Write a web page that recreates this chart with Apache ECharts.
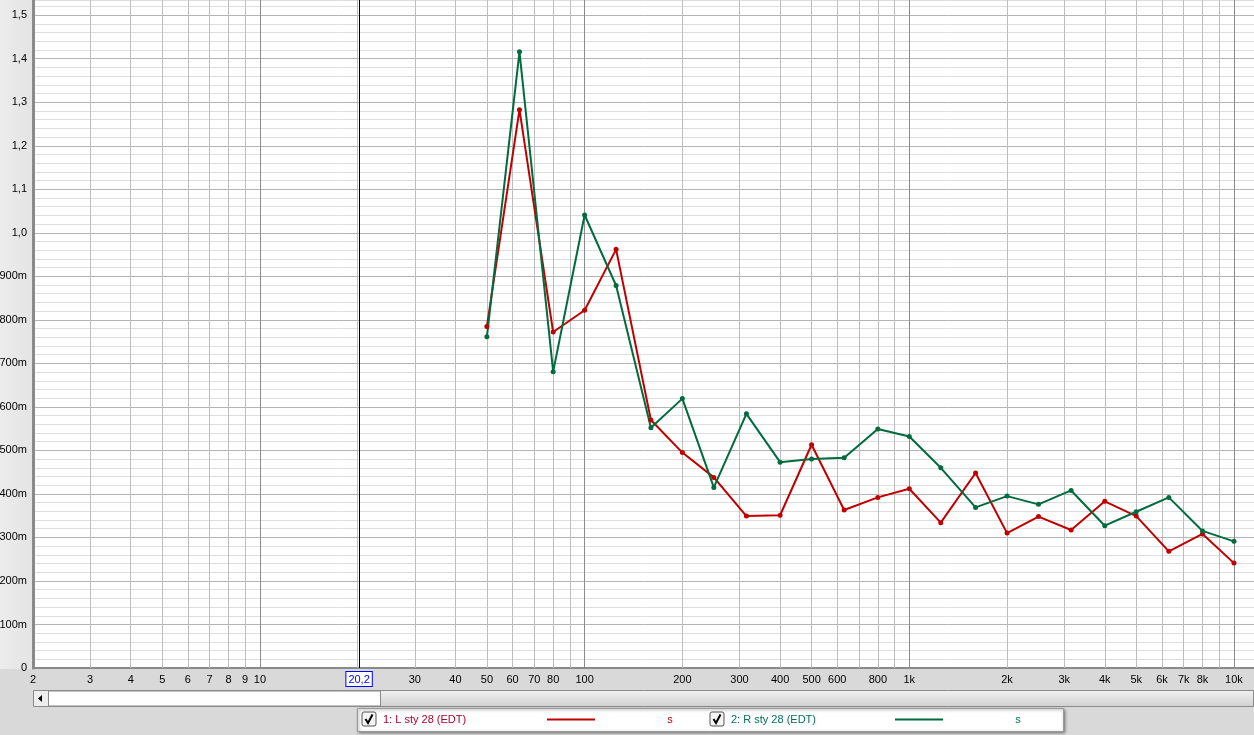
<!DOCTYPE html>
<html>
<head>
<meta charset="utf-8">
<script src="https://cdn.jsdelivr.net/npm/echarts@6/dist/echarts.min.js"></script>
<style>
html,body{margin:0;padding:0;background:#d9d9d9;}
#c{width:1254px;height:735px;}
</style>
</head>
<body>
<div id="c"></div>
<script>
// ---- data ----
const freqs = [50, 63, 80, 100, 125, 160, 200, 250, 315, 400, 500, 630, 800, 1000, 1250, 1600, 2000, 2500, 3150, 4000, 5000, 6300, 8000, 10000];
const edtLeft = [0.785, 1.283, 0.772, 0.822, 0.962, 0.570, 0.495, 0.438, 0.349, 0.351, 0.513, 0.363, 0.392, 0.412, 0.334, 0.448, 0.310, 0.348, 0.317, 0.383, 0.349, 0.268, 0.308, 0.241];
const edtRight = [0.761, 1.416, 0.681, 1.041, 0.879, 0.552, 0.619, 0.415, 0.584, 0.473, 0.480, 0.483, 0.549, 0.532, 0.460, 0.369, 0.395, 0.376, 0.408, 0.327, 0.359, 0.392, 0.315, 0.291];
const seriesNames = ['1: L sty 28 (EDT)', '2: R sty 28 (EDT)'];
const unitLabel = 's';
const xTickLabels = [2, 3, 4, 5, 6, 7, 8, 9, 10, 30, 40, 50, 60, 70, 80, 100, 200, 300, 400, 500, 600, 800, 1000, 2000, 3000, 4000, 5000, 6000, 7000, 8000, 10000];
const xGridFreqs = [3,4,5,6,7,8,9,10,20,30,40,50,60,70,80,90,100,200,300,400,500,600,700,800,900,1000,2000,3000,4000,5000,6000,7000,8000,9000,10000];
const decadeFreqs = [10, 100, 1000, 10000];
const cursorFreq = 20.2;
const cursorText = '20,2';

const RED = '#c00000';
const GREEN = '#006b3c';
const FONT = 'Liberation Sans';

function fmtFreq(f) { return f >= 1000 ? (f / 1000) + 'k' : String(f); }

// vertical grid lines + bottom tick labels via markLine on the log axis
const gridLines = [];
const allF = Array.from(new Set([2].concat(xGridFreqs))).sort((a, b) => a - b);
allF.forEach(f => {
  const isDec = decadeFreqs.indexOf(f) >= 0;
  const lab = xTickLabels.indexOf(f) >= 0;
  gridLines.push({
    xAxis: f,
    lineStyle: { color: isDec ? '#8a8a8a' : '#bdbdbd', width: f === 2 ? 0 : 1, type: 'solid' },
    label: { show: lab, formatter: fmtFreq(f) }
  });
});
gridLines.push({
  xAxis: cursorFreq,
  lineStyle: { color: '#000', width: 1, type: 'solid' },
  label: {
    show: true, formatter: cursorText, color: '#0000ff',
    borderColor: '#0000ff', borderWidth: 1, backgroundColor: '#fff',
    padding: [2, 2, 1, 2], distance: 4
  }
});

const chart = echarts.init(document.getElementById('c'));

function checkbox(x, y) {
  return [
    { type: 'rect', shape: { x: x, y: y, width: 14, height: 14, r: 2 }, style: { fill: '#f4f4f4', stroke: '#555', lineWidth: 1 }, z: 10 },
    { type: 'polyline', shape: { points: [[x + 3.5, y + 7], [x + 6, y + 11], [x + 10.5, y + 2.5]] }, style: { stroke: '#000', lineWidth: 2, fill: null }, z: 11 }
  ];
}

const graphics = [
  // left axis panel
  { type: 'rect', shape: { x: 0, y: 0, width: 32, height: 669 }, style: { fill: new echarts.graphic.LinearGradient(0, 0, 1, 0, [{ offset: 0, color: '#ececec' }, { offset: 1, color: '#e4e4e4' }]) }, z: -1, silent: true },
  // scrollbar
  { type: 'rect', shape: { x: 33.5, y: 690.5, width: 1220, height: 16 }, style: { fill: new echarts.graphic.LinearGradient(0, 0, 0, 1, [{ offset: 0, color: '#f2f2f2' }, { offset: 1, color: '#d0d0d0' }]), stroke: '#8a8a8a', lineWidth: 1 }, z: 5 },
  { type: 'rect', shape: { x: 48.5, y: 691, width: 332, height: 15 }, style: { fill: '#ffffff', stroke: '#8a8a8a', lineWidth: 1 }, z: 6 },
  { type: 'rect', shape: { x: 34, y: 691, width: 14, height: 15 }, style: { fill: '#eeeeee' }, z: 6 },
  { type: 'polygon', shape: { points: [[38, 698.5], [42, 695], [42, 702]] }, style: { fill: '#000' }, z: 7 },
  // legend box
  { type: 'rect', shape: { x: 357.5, y: 708.5, width: 706, height: 23 }, style: { fill: '#ffffff', stroke: '#9a9a9a', lineWidth: 1, shadowBlur: 3, shadowColor: 'rgba(0,0,0,0.45)', shadowOffsetX: 1, shadowOffsetY: 1 }, z: 8 }
].concat(checkbox(362, 712)).concat(checkbox(710, 712)).concat([
  { type: 'text', x: 383, y: 720, style: { text: seriesNames[0], fill: '#b0002a', font: '11px "' + FONT + '"', textVerticalAlign: 'middle' }, z: 10 },
  { type: 'line', shape: { x1: 547, y1: 719.5, x2: 595, y2: 719.5 }, style: { stroke: RED, lineWidth: 2 }, z: 10 },
  { type: 'text', x: 670, y: 720, style: { text: unitLabel, fill: RED, font: '11px "' + FONT + '"', textAlign: 'center', textVerticalAlign: 'middle' }, z: 10 },
  { type: 'text', x: 731, y: 720, style: { text: seriesNames[1], fill: '#00705a', font: '11px "' + FONT + '"', textVerticalAlign: 'middle' }, z: 10 },
  { type: 'line', shape: { x1: 895, y1: 719.5, x2: 943, y2: 719.5 }, style: { stroke: GREEN, lineWidth: 2 }, z: 10 },
  { type: 'text', x: 1018, y: 720, style: { text: unitLabel, fill: '#00705a', font: '11px "' + FONT + '"', textAlign: 'center', textVerticalAlign: 'middle' }, z: 10 }
]);

const option = {
  backgroundColor: '#d9d9d9',
  animation: false,
  textStyle: { fontFamily: FONT },
  grid: { left: 33, right: 0, top: 0, bottom: 67, show: true, backgroundColor: '#ffffff', borderWidth: 0, containLabel: false, outerBoundsMode: 'none' },
  xAxis: {
    type: 'log', logBase: 10, min: 2, max: 11525,
    axisLine: { show: true, lineStyle: { color: '#8a8a8a', width: 2 } },
    axisTick: { show: false }, axisLabel: { show: false }, splitLine: { show: false }, minorSplitLine: { show: false }
  },
  yAxis: {
    type: 'value', min: 0, max: 1.535, interval: 0.02,
    axisLine: { show: true, lineStyle: { color: '#8a8a8a', width: 3 } },
    axisTick: { show: false },
    axisLabel: {
      color: '#000', fontSize: 11, fontFamily: FONT, margin: 6,
      formatter: function (v) {
        const t = v * 10;
        if (Math.abs(t - Math.round(t)) > 1e-6) return '';
        if (v === 0) return '0';
        if (v < 0.999) return Math.round(v * 1000) + 'm';
        return v.toFixed(1).replace('.', ',');
      }
    },
    splitLine: { show: true, lineStyle: { color: ['#b4b4b4', '#dedede', '#dedede', '#dedede', '#dedede'], width: 1 } }
  },
  graphic: graphics,
  series: [
    {
      name: 'grid', type: 'line', data: [], z: 1, silent: true, clip: false,
      markLine: {
        silent: true, symbol: ['none', 'none'], z: 1, animation: false,
        label: { position: 'start', distance: 6, color: '#000', fontSize: 11, fontFamily: FONT },
        data: gridLines
      }
    },
    {
      name: seriesNames[0], type: 'line', z: 3,
      data: freqs.map((f, i) => [f, edtLeft[i]]),
      lineStyle: { color: RED, width: 2 }, itemStyle: { color: RED },
      symbol: 'circle', symbolSize: 5, showSymbol: true
    },
    {
      name: seriesNames[1], type: 'line', z: 3,
      data: freqs.map((f, i) => [f, edtRight[i]]),
      lineStyle: { color: GREEN, width: 2 }, itemStyle: { color: GREEN },
      symbol: 'circle', symbolSize: 5, showSymbol: true
    }
  ]
};
chart.setOption(option);
</script>
</body>
</html>
